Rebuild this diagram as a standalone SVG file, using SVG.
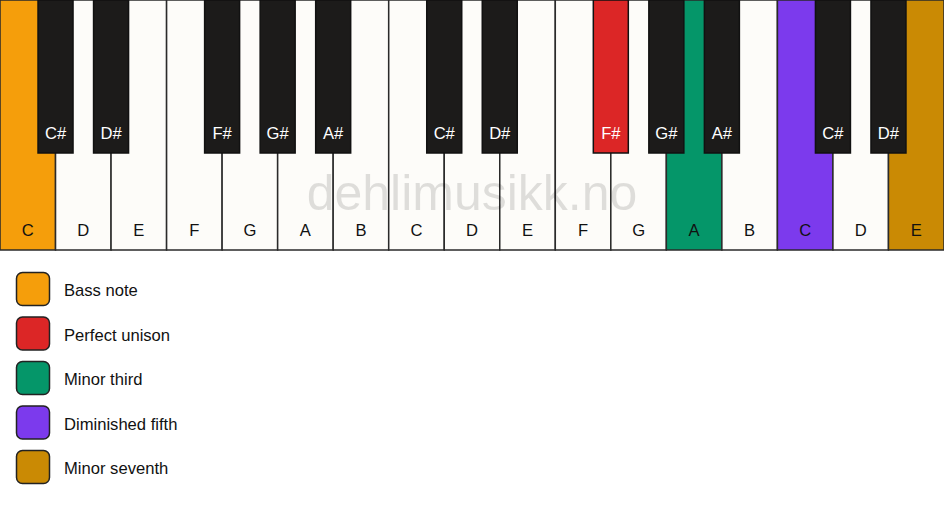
<svg xmlns="http://www.w3.org/2000/svg" width="944" height="506" viewBox="0 0 944 506">
<style>
.w{fill:#fdfcf9;stroke:#2a2a2a;stroke-width:1.5}
.b{fill:#1c1b1a;stroke:#111;stroke-width:1.5}
.wl{font-family:"Liberation Sans",Arial,sans-serif;font-size:16.6px;fill:#111;text-anchor:middle}
.bl{font-family:"Liberation Sans",Arial,sans-serif;font-size:16.6px;fill:#fff;text-anchor:middle}
.lg{stroke:#222;stroke-width:1.5}
.lt{font-family:"Liberation Sans",Arial,sans-serif;font-size:16.6px;fill:#111}
.wm{font-family:"Liberation Sans",Arial,sans-serif;font-size:50px;fill:#000;fill-opacity:0.12;text-anchor:middle}
</style>
<rect x="0" y="0" width="944" height="506" fill="#ffffff"/>
<g id="white-keys">
<g id="w0"><rect class="w" x="0" y="0" width="55.53" height="250" style="fill:#f59e0b"/><text class="wl" x="27.76" y="236">C</text></g>
<g id="w1"><rect class="w" x="55.53" y="0" width="55.53" height="250"/><text class="wl" x="83.29" y="236">D</text></g>
<g id="w2"><rect class="w" x="111.06" y="0" width="55.53" height="250"/><text class="wl" x="138.82" y="236">E</text></g>
<g id="w3"><rect class="w" x="166.59" y="0" width="55.53" height="250"/><text class="wl" x="194.35" y="236">F</text></g>
<g id="w4"><rect class="w" x="222.12" y="0" width="55.53" height="250"/><text class="wl" x="249.88" y="236">G</text></g>
<g id="w5"><rect class="w" x="277.65" y="0" width="55.53" height="250"/><text class="wl" x="305.41" y="236">A</text></g>
<g id="w6"><rect class="w" x="333.18" y="0" width="55.53" height="250"/><text class="wl" x="360.94" y="236">B</text></g>
<g id="w7"><rect class="w" x="388.71" y="0" width="55.53" height="250"/><text class="wl" x="416.47" y="236">C</text></g>
<g id="w8"><rect class="w" x="444.24" y="0" width="55.53" height="250"/><text class="wl" x="472" y="236">D</text></g>
<g id="w9"><rect class="w" x="499.76" y="0" width="55.53" height="250"/><text class="wl" x="527.53" y="236">E</text></g>
<g id="w10"><rect class="w" x="555.29" y="0" width="55.53" height="250"/><text class="wl" x="583.06" y="236">F</text></g>
<g id="w11"><rect class="w" x="610.82" y="0" width="55.53" height="250"/><text class="wl" x="638.59" y="236">G</text></g>
<g id="w12"><rect class="w" x="666.35" y="0" width="55.53" height="250" style="fill:#059669"/><text class="wl" x="694.12" y="236">A</text></g>
<g id="w13"><rect class="w" x="721.88" y="0" width="55.53" height="250"/><text class="wl" x="749.65" y="236">B</text></g>
<g id="w14"><rect class="w" x="777.41" y="0" width="55.53" height="250" style="fill:#7c3aed"/><text class="wl" x="805.18" y="236">C</text></g>
<g id="w15"><rect class="w" x="832.94" y="0" width="55.53" height="250"/><text class="wl" x="860.71" y="236">D</text></g>
<g id="w16"><rect class="w" x="888.47" y="0" width="55.53" height="250" style="fill:#ca8a04"/><text class="wl" x="916.24" y="236">E</text></g>
</g>
<text class="wm" x="472" y="210">dehlimusikk.no</text>
<g id="black-keys">
<g id="b1"><rect class="b" x="38.03" y="0" width="35" height="153"/><text class="bl" x="55.53" y="139">C#</text></g>
<g id="b2"><rect class="b" x="93.56" y="0" width="35" height="153"/><text class="bl" x="111.06" y="139">D#</text></g>
<g id="b4"><rect class="b" x="204.62" y="0" width="35" height="153"/><text class="bl" x="222.12" y="139">F#</text></g>
<g id="b5"><rect class="b" x="260.15" y="0" width="35" height="153"/><text class="bl" x="277.65" y="139">G#</text></g>
<g id="b6"><rect class="b" x="315.68" y="0" width="35" height="153"/><text class="bl" x="333.18" y="139">A#</text></g>
<g id="b8"><rect class="b" x="426.74" y="0" width="35" height="153"/><text class="bl" x="444.24" y="139">C#</text></g>
<g id="b9"><rect class="b" x="482.26" y="0" width="35" height="153"/><text class="bl" x="499.76" y="139">D#</text></g>
<g id="b11"><rect class="b" x="593.32" y="0" width="35" height="153" style="fill:#dc2626"/><text class="bl" x="610.82" y="139">F#</text></g>
<g id="b12"><rect class="b" x="648.85" y="0" width="35" height="153"/><text class="bl" x="666.35" y="139">G#</text></g>
<g id="b13"><rect class="b" x="704.38" y="0" width="35" height="153"/><text class="bl" x="721.88" y="139">A#</text></g>
<g id="b15"><rect class="b" x="815.44" y="0" width="35" height="153"/><text class="bl" x="832.94" y="139">C#</text></g>
<g id="b16"><rect class="b" x="870.97" y="0" width="35" height="153"/><text class="bl" x="888.47" y="139">D#</text></g>
</g>
<g id="legend">
<g id="lg-bass"><rect class="lg" x="16.5" y="272.5" width="33" height="33" rx="6" fill="#f59e0b"/><text class="lt" x="64" y="296">Bass note</text></g>
<g id="lg-unison"><rect class="lg" x="16.5" y="317" width="33" height="33" rx="6" fill="#dc2626"/><text class="lt" x="64" y="340.5">Perfect unison</text></g>
<g id="lg-third"><rect class="lg" x="16.5" y="361.5" width="33" height="33" rx="6" fill="#059669"/><text class="lt" x="64" y="385">Minor third</text></g>
<g id="lg-fifth"><rect class="lg" x="16.5" y="406" width="33" height="33" rx="6" fill="#7c3aed"/><text class="lt" x="64" y="429.5">Diminished fifth</text></g>
<g id="lg-seventh"><rect class="lg" x="16.5" y="450.5" width="33" height="33" rx="6" fill="#ca8a04"/><text class="lt" x="64" y="474">Minor seventh</text></g>
</g>
</svg>
